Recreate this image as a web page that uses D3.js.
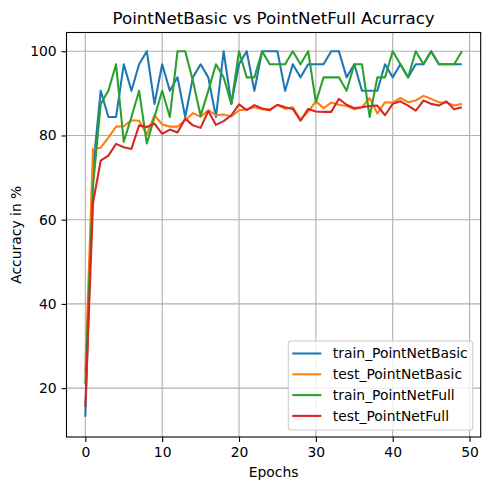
<!DOCTYPE html>
<html>
<head>
<meta charset="utf-8">
<script src="https://cdn.jsdelivr.net/npm/d3@7"></script>
<style>
  body { margin: 0; background: #fff; }
  text { font-family: "DejaVu Sans", sans-serif; fill: #000; }
</style>
</head>
<body>
<script>
const width = 490;
const height = 490;
const margin = { top: 32.5, right: 9.3, bottom: 53, left: 66.5 };

const epochs = d3.range(50);
const seriesNames = ['train_PointNetBasic', 'test_PointNetBasic', 'train_PointNetFull', 'test_PointNetFull'];
const trainBasic = [13.2, 72, 90.6, 84.4, 84.4, 96.9, 90.6, 96.9, 100, 87.5,
  96.9, 90.6, 93.8, 84.4, 93.8, 96.9, 93.8, 84.4, 100, 87.5,
  96.9, 100, 90.6, 100, 100, 100, 90.6, 96.9, 93.8, 96.9,
  96.9, 96.9, 100, 100, 93.8, 96.9, 90.6, 90.6, 90.6, 96.9,
  93.8, 96.9, 93.8, 96.9, 96.9, 100, 96.9, 96.9, 96.9, 96.9];
const testBasic = [23.6, 76.8, 77.1, 79.5, 82.1, 82.2, 83.6, 83.5, 80.2, 84.8,
  82.6, 82.1, 82.1, 83.6, 85.3, 84.4, 86.0, 84.8, 85.0, 84.5,
  86.0, 86.2, 86.7, 86.2, 86.2, 87.2, 86.3, 86.7, 83.8, 85.6,
  88.1, 86.5, 87.8, 87.3, 87.0, 86.2, 86.7, 88.9, 85.2, 87.9,
  87.8, 88.9, 87.9, 88.3, 89.4, 88.7, 87.9, 87.8, 87.1, 87.5];
const trainFull = [21, 68, 87.5, 90.6, 96.9, 78.5, 84.4, 90.6, 78.1, 84.4,
  90.6, 84.4, 100, 100, 93.0, 84.7, 90.6, 96.9, 93.8, 87.5,
  100, 93.8, 93.8, 100, 96.9, 96.9, 96.9, 100, 96.9, 100,
  87.9, 93.8, 93.8, 93.8, 90.6, 96.9, 96.9, 84.4, 93.8, 93.8,
  100, 96.9, 93.8, 100, 96.9, 100, 96.9, 96.9, 96.9, 100];
const testFull = [15.5, 64, 74.0, 75.2, 78.0, 77.2, 76.8, 82.4, 82.0, 82.8,
  80.4, 81.4, 80.7, 84.0, 82.4, 81.8, 85.8, 82.5, 83.4, 84.8,
  87.4, 86.0, 87.2, 86.4, 86.0, 87.3, 86.7, 86.3, 83.5, 86.3,
  85.7, 85.6, 85.6, 88.7, 87.3, 86.5, 86.7, 87.0, 87.1, 84.8,
  87.5, 88.1, 87.1, 85.9, 88.3, 87.5, 87.1, 88.1, 86.2, 86.7];
const xTicks = [0, 10, 20, 30, 40, 50];
const yTicks = [20, 40, 60, 80, 100];

const series = [trainBasic, testBasic, trainFull, testFull];
const color = (i) => ['#1f77b4', '#ff7f0e', '#2ca02c', '#d62728'][i];

const svg = d3.select('body')
  .append('svg')
    .attr('width', width)
    .attr('height', height);

const x = d3.scaleLinear()
  .domain([-2.45, 51.45])
  .range([margin.left, width - margin.right]);

const y = d3.scaleLinear()
  .domain([8.4, 104.45])
  .range([height - margin.bottom, margin.top]);

const xAxis = d3.axisBottom(x)
  .tickValues(xTicks)
  .tickSizeInner(4.9)
  .tickSizeOuter(0)
  .tickPadding(4.9);

const yAxis = d3.axisLeft(y)
  .tickValues(yTicks)
  .tickSizeInner(4.9)
  .tickSizeOuter(0)
  .tickPadding(4.9);

// grid
const grid = svg.append('g').attr('stroke', '#b0b0b0').attr('stroke-width', 1.1);
grid.selectAll('.gx').data(xTicks).enter().append('line')
  .attr('x1', d => x(d)).attr('x2', d => x(d))
  .attr('y1', margin.top).attr('y2', height - margin.bottom);
grid.selectAll('.gy').data(yTicks).enter().append('line')
  .attr('y1', d => y(d)).attr('y2', d => y(d))
  .attr('x1', margin.left).attr('x2', width - margin.right);

const line = d3.line()
  .x((d, i) => x(epochs[i]))
  .y((d) => y(d));

svg.append('g').selectAll('path')
  .data(series)
  .enter()
    .append('path')
    .attr('fill', 'none')
    .attr('stroke', (d, i) => color(i))
    .attr('stroke-width', 2.08)
    .attr('stroke-linejoin', 'round')
    .attr('d', line);

const axes = svg.append('g');
axes.append('g')
  .attr('transform', `translate(0, ${height - margin.bottom})`)
  .call(xAxis);
axes.append('g')
  .attr('transform', `translate(${margin.left}, 0)`)
  .call(yAxis);
axes.selectAll('.domain').remove();
axes.selectAll('text').attr('font-size', 13.9).attr('font-family', 'DejaVu Sans');
axes.selectAll('.tick line').attr('stroke-width', 1.1);

svg.append('rect')
  .attr('x', margin.left).attr('y', margin.top)
  .attr('width', width - margin.left - margin.right)
  .attr('height', height - margin.top - margin.bottom)
  .attr('fill', 'none').attr('stroke', '#000').attr('stroke-width', 1.1);

svg.append('text')
  .attr('x', (margin.left + width - margin.right) / 2).attr('y', 24)
  .attr('text-anchor', 'middle').attr('font-size', 16.7)
  .text('PointNetBasic vs PointNetFull Acurracy');

svg.append('text')
  .attr('x', (margin.left + width - margin.right) / 2).attr('y', 477)
  .attr('text-anchor', 'middle').attr('font-size', 13.9)
  .text('Epochs');

svg.append('text')
  .attr('transform', `translate(21, ${(margin.top + height - margin.bottom) / 2}) rotate(-90)`)
  .attr('text-anchor', 'middle').attr('font-size', 13.9)
  .text('Accuracy in %');

// legend
const legend = svg.append('g').attr('transform', 'translate(288.3, 341)');
legend.append('rect')
  .attr('width', 184.4).attr('height', 89).attr('rx', 3)
  .attr('fill', '#fff').attr('fill-opacity', 0.8)
  .attr('stroke', '#cccccc').attr('stroke-width', 1.1);
const rows = legend.selectAll('.row').data(seriesNames).enter().append('g')
  .attr('transform', (d, i) => `translate(0, ${12.5 + i * 20.8})`);
rows.append('line')
  .attr('x1', 4).attr('x2', 33)
  .attr('stroke', (d, i) => color(i)).attr('stroke-width', 2.08);
rows.append('text')
  .attr('x', 44.5).attr('dy', '0.35em').attr('font-size', 13.9)
  .text(d => d);
</script>
</body>
</html>
